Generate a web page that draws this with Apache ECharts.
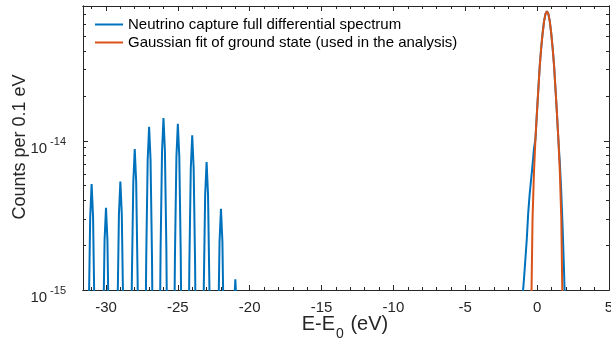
<!DOCTYPE html>
<html><head><meta charset="utf-8">
<script src="https://cdn.jsdelivr.net/npm/echarts@6/dist/echarts.min.js"></script>
<style>html,body{margin:0;padding:0;background:#fff}#c{width:611px;height:348px}</style>
</head><body><div id="c"></div>
<script>
// ---- data ----
const seriesNames = ['Neutrino capture full differential spectrum', 'Gaussian fit of ground state (used in the analysis)'];
// Blue: full differential spectrum [E-E0 (eV), counts per 0.1 eV]
const spectrum = [
  [-31.3,5.7e-17],[-31.2,6.9e-16],[-31.1,3.08e-15],[-31,5.12e-15],[-30.9,3.08e-15],[-30.8,6.9e-16],[-30.7,5.7e-17],
  [-30.3,4.0e-17],[-30.2,4.8e-16],[-30.1,2.15e-15],[-30,3.56e-15],[-29.9,2.15e-15],[-29.8,4.8e-16],[-29.7,4.0e-17],
  [-29.3,6.0e-17],[-29.2,7.2e-16],[-29.1,3.21e-15],[-29,5.33e-15],[-28.9,3.21e-15],[-28.8,7.2e-16],[-28.7,6.0e-17],
  [-28.3,9.9e-17],[-28.2,1.19e-15],[-28.1,5.3e-15],[-28,8.8e-15],[-27.9,5.3e-15],[-27.8,1.19e-15],[-27.7,9.9e-17],
  [-27.3,1.39e-16],[-27.2,1.67e-15],[-27.1,7.45e-15],[-27,1.24e-14],[-26.9,7.45e-15],[-26.8,1.67e-15],[-26.7,1.39e-16],
  [-26.3,1.59e-16],[-26.2,1.91e-15],[-26.1,8.55e-15],[-26,1.42e-14],[-25.9,8.55e-15],[-25.8,1.91e-15],[-25.7,1.59e-16],
  [-25.3,1.46e-16],[-25.2,1.75e-15],[-25.1,7.83e-15],[-25,1.30e-14],[-24.9,7.83e-15],[-24.8,1.75e-15],[-24.7,1.46e-16],
  [-24.3,1.22e-16],[-24.2,1.47e-15],[-24.1,6.55e-15],[-24,1.09e-14],[-23.9,6.55e-15],[-23.8,1.47e-15],[-23.7,1.22e-16],
  [-23.3,8.1e-17],[-23.2,9.7e-16],[-23.1,4.34e-15],[-23,7.2e-15],[-22.9,4.34e-15],[-22.8,9.7e-16],[-22.7,8.1e-17],
  [-22.3,3.9e-17],[-22.2,4.7e-16],[-22.1,2.11e-15],[-22,3.5e-15],[-21.9,2.11e-15],[-21.8,4.7e-16],[-21.7,3.9e-17],
  [-21.3,1.3e-17],[-21.2,1.6e-16],[-21.1,7.1e-16],[-21,1.18e-15],[-20.9,7.1e-16],[-20.8,1.6e-16],[-20.7,1.3e-17],
  [-1.12,4e-16],[-1.02,8.9e-16],[-0.92,1.17e-15],[-0.82,1.6e-15],[-0.72,2.2e-15],[-0.62,3.3e-15],[-0.52,4.4e-15],
  [-0.42,5.5e-15],[-0.32,6.9e-15],[-0.22,8.9e-15],[-0.12,1.02e-14],[-0.02,1.51e-14],[0.08,2.19e-14],[0.18,3.16e-14],
  [0.28,4.17e-14],[0.38,5.25e-14],[0.48,6.31e-14],[0.58,7.08e-14],[0.68,7.38e-14],[0.78,7.08e-14],[0.88,6.31e-14],
  [0.98,5.25e-14],[1.08,4.17e-14],[1.18,3.16e-14],[1.28,2.19e-14],[1.38,1.51e-14],[1.48,1.0e-14],[1.58,7.1e-15],
  [1.68,4.5e-15],[1.78,2.5e-15],[1.88,1.26e-15],[1.98,5e-16],[2.08,2e-16]
];
// Orange: Gaussian fit of ground state
const gaussFit = [
  [-0.52,1.6e-16],[-0.42,6.3e-16],[-0.32,3.02e-15],[-0.22,6.17e-15],[-0.12,1.02e-14],[-0.02,1.51e-14],
  [0.08,2.19e-14],[0.18,3.16e-14],[0.28,4.17e-14],[0.38,5.25e-14],[0.48,6.31e-14],[0.58,7.08e-14],
  [0.68,7.38e-14],[0.78,7.08e-14],[0.88,6.31e-14],[0.98,5.25e-14],[1.08,4.17e-14],[1.18,3.16e-14],
  [1.28,2.19e-14],[1.38,1.51e-14],[1.48,1.02e-14],[1.58,6.17e-15],[1.68,3.02e-15],[1.78,6.3e-16],[1.88,1.6e-16]
];
// axis ticks and labels
const xLabelValues = [-30,-25,-20,-15,-10,-5,0,5];
const xMinorTicks = [-31,-30,-29,-28,-27,-26,-25,-24,-23,-22,-21,-20,-19,-18,-17,-16,-15,-14,-13,-12,-11,-10,-9,-8,-7,-6,-5,-4,-3,-2,-1,0,1,2,3,4,5];
const yLabelValues = [1e-15, 1e-14];
const yMinorTicks = [2e-15,3e-15,4e-15,5e-15,6e-15,7e-15,8e-15,9e-15,2e-14,3e-14,4e-14,5e-14,6e-14,7e-14,8e-14];
const xRange = [-31.6, 5];
const yRange = [1e-15, 8e-14];

// ---- chart ----
const FONT = '"Liberation Sans", Arial, Helvetica, sans-serif';
const AX = '#262626';
const chart = echarts.init(document.getElementById('c'), null, {renderer: 'canvas'});

function xAxis(pos, ticks, len, labels) {
  return {
    type: 'value', position: pos, min: xRange[0], max: xRange[1],
    axisLine: {show: true, onZero: false, lineStyle: {color: AX, width: 1}},
    axisTick: {show: true, inside: true, length: len, customValues: ticks, lineStyle: {color: AX, width: 1}},
    axisLabel: labels ? {show: true, customValues: labels, margin: 10, fontSize: 15, fontFamily: FONT, color: AX,
      formatter: v => String(v)} : {show: false},
    splitLine: {show: false}
  };
}
function yAxis(pos, ticks, len, labels) {
  return {
    type: 'log', logBase: 10, position: pos, min: yRange[0], max: yRange[1],
    axisLine: {show: true, onZero: false, lineStyle: {color: AX, width: 1}},
    axisTick: {show: true, inside: true, length: len, customValues: ticks, lineStyle: {color: AX, width: 1}},
    axisLabel: labels ? {show: true, customValues: labels, margin: 17, fontFamily: FONT, color: AX,
      formatter: v => '{b|10}{s|' + Math.round(Math.log10(v)) + '}',
      rich: {
        b: {fontSize: 15, lineHeight: 15, padding: [8, 0, 0, 0], verticalAlign: 'top', fontFamily: FONT, color: AX},
        s: {fontSize: 11, lineHeight: 11, padding: [3, 0, 0, 3], verticalAlign: 'top', fontFamily: FONT, color: AX}
      }} : {show: false},
    splitLine: {show: false}
  };
}

chart.setOption({
  animation: false,
  backgroundColor: '#ffffff',
  grid: {left: 83, right: 2, top: 6, bottom: 58, containLabel: false, outerBoundsMode: 'none'},
  xAxis: [
    xAxis('bottom', xLabelValues, 5, xLabelValues),
    xAxis('bottom', xMinorTicks, 3, null),
    xAxis('top', xLabelValues, 5, null),
    xAxis('top', xMinorTicks, 3, null)
  ],
  yAxis: [
    yAxis('left', yLabelValues, 5, yLabelValues),
    yAxis('left', yMinorTicks, 3, null),
    yAxis('right', yLabelValues, 5, null),
    yAxis('right', yMinorTicks, 3, null)
  ],
  legend: {
    orient: 'vertical', left: 95, top: 17, itemGap: 3, padding: 0,
    icon: 'rect', itemWidth: 28, itemHeight: 2,
    textStyle: {fontSize: 15, fontFamily: FONT, color: '#000'},
    data: seriesNames
  },
  series: [
    {name: seriesNames[0], type: 'line', data: spectrum, xAxisIndex: 0, yAxisIndex: 0,
      showSymbol: false, symbol: 'none', clip: true, color: '#0072BD',
      lineStyle: {color: '#0072BD', width: 2}},
    {name: seriesNames[1], type: 'line', data: gaussFit, xAxisIndex: 0, yAxisIndex: 0,
      showSymbol: false, symbol: 'none', clip: true, color: '#D95319',
      lineStyle: {color: '#D95319', width: 2}}
  ],
  graphic: [
    {type: 'text', x: 345, y: 314,
      style: {text: '{a|E-E}{s|0}{a| (eV)}', fill: AX, align: 'center', verticalAlign: 'top',
        rich: {
          a: {fontSize: 20, lineHeight: 22, verticalAlign: 'top', fontFamily: FONT, fill: AX},
          s: {fontSize: 14, lineHeight: 14, padding: [13, 1, 0, 1], verticalAlign: 'top', fontFamily: FONT, fill: AX}
        }}},
    {type: 'text', x: 20, y: 147, rotation: Math.PI / 2,
      style: {text: 'Counts per 0.1 eV', fontSize: 18, fontFamily: FONT, fill: AX, align: 'center', verticalAlign: 'middle'}}
  ]
});
</script></body></html>
